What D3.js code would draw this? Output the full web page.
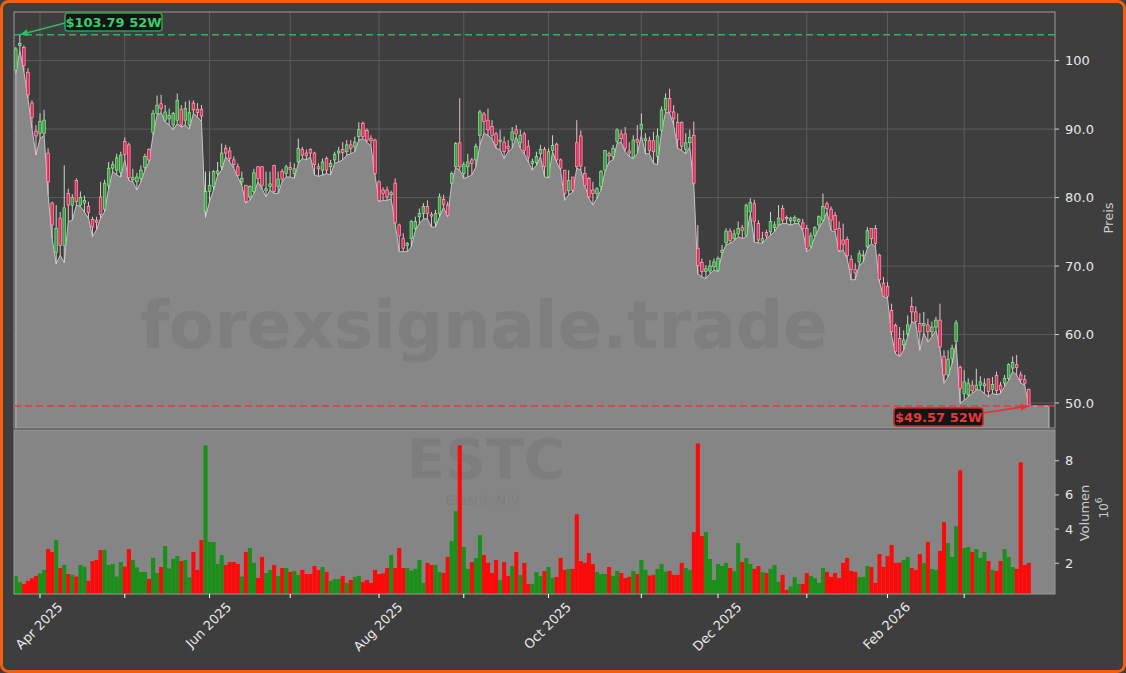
<!DOCTYPE html>
<html><head><meta charset="utf-8">
<script src="https://cdn.jsdelivr.net/npm/d3@7"></script>
<style>html,body{margin:0;padding:0;background:#3e3e3e;overflow:hidden}svg{display:block}</style>
</head><body><svg id="chart" width="1126" height="673"></svg>
<script>
// ---- data (ESTC, daily, index-based x axis) ----
const opens = [
98.6,102.2,101.9,98.3,93.8,89.7,89.4,89.4,86.5,79.2,
72.0,77.0,73.0,80.6,78.9,82.5,78.9,79.2,78.7,76.8,
76.7,80.1,78.3,81.8,84.3,84.0,83.7,88.2,87.7,82.6,
82.3,82.8,84.4,87.0,89.5,92.3,93.7,91.3,91.5,90.6,
91.3,92.9,91.3,90.6,93.8,92.9,92.9,78.0,80.9,81.6,
83.5,84.5,87.2,86.8,85.5,84.5,82.3,81.8,80.1,80.9,
84.5,84.5,81.0,81.6,84.7,81.6,83.8,83.5,84.4,83.5,
85.2,87.0,86.5,87.0,86.5,84.5,84.0,85.7,84.5,85.5,
86.5,87.0,86.7,87.7,87.4,88.9,90.8,89.8,88.6,88.4,
82.3,81.1,81.1,80.4,82.1,76.0,74.0,73.0,74.0,75.5,
77.2,77.7,78.7,77.5,76.3,77.7,79.7,78.9,82.1,84.5,
88.0,83.5,84.5,85.5,85.5,89.1,92.2,91.3,90.4,89.3,
88.2,88.1,87.5,88.4,89.9,88.0,89.3,87.5,85.0,85.1,
86.4,87.0,83.0,86.9,87.8,85.5,84.0,81.0,83.0,88.0,
89.0,83.5,82.8,81.1,80.6,81.6,84.0,86.4,86.0,88.2,
89.3,89.3,86.8,85.9,88.5,90.0,88.3,88.3,88.3,86.0,
89.8,92.8,94.5,92.5,91.0,91.0,87.0,88.0,89.1,72.6,
70.5,69.2,69.3,69.9,69.4,72.0,73.4,75.1,74.0,74.7,
75.6,74.5,77.9,79.1,76.2,73.6,74.9,75.0,75.6,76.0,
78.4,77.1,76.6,76.6,76.5,76.3,75.5,72.9,74.5,76.0,
76.7,79.1,78.3,77.4,75.5,73.8,73.9,71.0,69.5,70.6,
71.5,72.8,75.5,75.5,71.6,67.5,67.0,63.5,61.3,59.4,
58.5,60.1,64.1,63.3,61.6,61.3,61.4,60.4,61.1,62.1,
56.8,54.1,56.5,59.0,55.2,51.4,51.2,52.6,52.0,52.6,
52.5,53.5,52.0,54.0,52.6,52.9,53.6,55.1,55.6,54.1,
53.4,52.0];
const highs = [
102.0,103.79,102.2,98.9,94.2,90.6,92.3,92.8,87.2,79.4,
78.9,77.9,84.7,81.3,80.5,82.8,80.9,80.3,79.4,77.2,
77.2,82.3,82.6,85.2,85.3,86.4,86.7,88.8,88.0,84.2,
83.6,84.7,86.4,87.2,92.8,94.9,95.0,93.5,93.0,92.5,
95.2,93.5,94.0,94.2,94.2,93.8,93.5,83.8,83.8,84.0,
85.2,87.9,87.7,87.4,86.0,85.0,83.8,81.8,81.8,84.2,
84.6,84.6,83.8,83.8,84.8,83.8,84.2,84.8,85.2,85.0,
88.6,87.4,87.0,87.2,86.7,85.0,85.7,86.0,85.5,86.7,
87.4,88.1,88.4,88.4,88.9,91.0,91.1,90.1,89.1,88.6,
82.5,81.5,81.6,81.0,82.8,76.2,74.8,73.5,76.7,77.2,
78.4,79.2,79.6,77.9,78.2,80.6,80.4,79.4,83.8,88.1,
94.5,85.2,86.4,85.8,87.9,92.8,92.5,93.0,91.3,89.6,
89.9,88.9,88.4,90.3,90.6,89.9,89.6,88.4,85.7,86.7,
87.7,87.4,87.2,89.1,88.0,85.7,84.0,84.0,83.0,91.3,
89.8,84.5,83.0,82.3,81.5,84.0,86.9,86.7,87.7,90.1,
89.9,90.3,88.1,89.1,90.6,92.3,89.4,88.9,89.6,90.1,
93.3,95.2,95.9,93.5,92.3,91.1,89.4,89.9,91.1,76.0,
71.1,70.1,70.9,71.1,71.4,73.1,75.5,75.5,75.3,76.5,
76.0,79.1,79.9,79.7,76.7,75.0,75.3,77.9,76.5,78.9,
78.9,77.4,77.2,77.4,77.0,76.9,76.0,74.9,75.8,77.4,
80.6,79.4,78.7,77.9,76.5,76.2,74.3,71.6,70.4,72.3,
72.3,75.7,75.5,76.0,71.8,68.4,67.7,64.5,61.6,61.1,
60.6,62.8,65.5,64.1,63.1,63.3,62.3,61.9,62.6,64.5,
57.7,57.7,58.5,62.1,55.5,54.8,53.6,53.3,55.0,53.9,
53.6,53.6,53.8,54.6,53.1,54.1,55.8,56.8,57.0,54.6,
54.1,52.1];
const lows = [
98.1,101.5,98.4,94.5,90.1,86.2,88.6,89.1,80.4,74.0,
70.3,71.6,70.5,76.5,76.7,78.9,78.7,77.9,77.0,74.3,
75.3,77.0,77.9,81.3,83.8,83.3,83.0,85.5,82.5,82.3,
81.1,82.3,84.0,85.2,89.1,92.0,92.4,91.1,90.6,89.9,
90.8,90.3,90.6,90.0,92.3,91.8,91.1,77.1,79.4,81.1,
83.2,84.0,86.0,85.2,84.3,83.0,81.8,79.2,79.6,80.6,
82.3,81.3,80.1,81.1,80.6,80.6,82.3,83.0,83.0,82.8,
85.0,85.7,85.5,86.0,83.3,83.1,83.3,83.5,83.3,85.0,
85.2,85.5,86.2,86.4,86.7,88.4,88.6,88.1,87.5,83.3,
79.4,79.6,79.6,79.8,76.2,72.1,72.1,72.1,72.8,75.2,
76.2,76.9,76.9,75.7,75.7,77.2,78.6,77.2,82.0,84.4,
84.0,82.8,83.0,83.3,84.5,87.7,89.4,89.1,88.6,87.2,
87.0,85.7,86.7,87.2,88.9,87.2,86.4,85.2,84.0,84.7,
86.0,83.0,82.9,86.7,85.2,84.0,79.6,80.4,80.8,84.3,
84.0,81.8,79.9,78.9,79.9,81.1,83.8,85.2,85.5,87.9,
88.1,86.7,86.0,85.7,86.4,89.1,86.4,86.4,85.0,84.8,
89.6,92.5,92.3,90.6,87.2,86.9,86.4,87.4,81.8,68.9,
68.4,68.2,68.9,69.4,69.2,71.8,73.1,73.3,73.7,74.3,
74.0,74.3,77.7,73.5,73.4,73.3,74.0,74.5,75.0,76.0,
76.2,76.2,76.0,76.2,76.2,75.2,72.1,72.6,74.3,75.5,
76.5,77.9,75.2,75.0,72.1,72.3,71.1,68.0,68.0,70.1,
70.6,72.6,73.3,72.8,67.7,65.5,65.3,59.9,57.2,56.8,
57.7,59.7,61.9,61.6,57.7,60.2,58.9,59.7,60.6,58.0,
52.9,53.8,55.8,58.7,49.95,50.4,50.9,51.4,51.9,51.9,
51.4,50.9,51.4,51.2,51.4,52.4,53.3,54.6,54.1,52.9,
52.6,49.57];
const closes = [
101.7,102.5,99.3,95.0,91.7,89.0,91.1,91.3,82.3,76.0,
75.5,73.0,78.5,78.9,80.0,79.4,80.0,79.6,77.8,75.7,
76.4,77.5,82.1,84.3,84.8,85.8,86.2,86.3,82.9,82.9,
83.0,84.0,86.0,85.5,92.3,93.5,93.0,92.5,92.0,92.3,
94.2,90.6,93.0,92.4,92.8,92.4,91.9,80.9,81.8,83.8,
83.9,86.5,86.5,85.7,84.8,83.2,82.8,79.4,81.6,83.6,
82.8,81.8,81.3,82.0,80.9,82.7,82.7,84.5,84.1,84.2,
87.2,86.2,86.1,86.5,84.8,84.2,85.2,84.0,85.0,86.3,
86.8,86.6,87.7,87.2,88.1,89.9,88.9,88.4,88.3,83.5,
79.6,80.6,80.1,80.7,76.3,74.4,72.6,73.3,76.5,76.5,
77.7,78.7,77.7,77.3,77.7,80.1,79.0,77.4,83.5,87.9,
84.5,84.8,85.2,85.0,87.5,92.5,91.1,89.9,89.1,87.7,
88.4,86.7,87.2,89.6,89.3,89.1,86.9,85.9,85.3,86.0,
87.0,84.5,86.7,87.6,85.5,84.3,80.6,82.5,81.1,84.5,
84.6,81.8,80.1,80.6,81.3,83.8,86.9,86.1,87.2,89.9,
88.6,87.2,86.5,88.4,88.1,90.7,88.6,86.9,86.7,89.0,
92.8,94.5,92.5,91.5,88.5,87.5,88.0,88.8,82.1,70.1,
69.2,69.6,70.0,70.6,71.1,72.3,75.1,73.7,74.7,75.5,
75.2,78.9,79.3,76.5,73.8,74.0,74.4,76.5,76.0,77.0,
76.7,76.9,77.0,77.1,76.8,75.5,72.6,74.4,75.6,77.2,
78.7,78.4,76.7,75.35,72.3,73.2,71.5,69.5,69.0,71.8,
71.6,75.2,74.0,73.3,68.0,65.6,65.6,60.4,57.5,57.0,
59.2,61.4,63.3,61.9,60.4,61.6,60.4,61.1,62.1,58.2,
54.1,56.4,58.0,61.7,52.1,53.1,52.9,51.8,52.6,53.1,
52.8,51.7,52.7,51.8,51.9,53.6,55.6,55.9,55.2,53.4,
52.9,49.7];
// volume in millions
const volumes = [
1.26,0.89,0.79,0.97,1.12,1.26,1.41,1.61,2.83,2.66,
3.36,1.72,1.90,1.37,1.32,1.22,1.90,1.80,0.97,2.13,
2.19,2.77,2.77,1.90,1.96,1.22,2.07,1.80,2.83,2.19,
1.76,1.49,1.49,1.08,2.31,1.43,1.78,3.01,1.69,2.25,
2.42,2.13,2.19,1.18,2.66,1.61,3.36,8.90,3.24,3.24,
1.96,2.48,1.90,2.07,2.07,1.96,1.22,2.66,2.89,2.02,
1.14,2.37,1.43,1.61,1.90,1.26,1.72,1.72,1.49,1.55,
1.32,1.61,1.37,1.37,1.84,1.61,1.78,1.49,0.97,1.08,
1.08,1.26,0.85,1.02,1.20,1.26,0.91,1.02,0.85,1.61,
1.37,1.41,1.72,2.48,1.72,2.89,1.72,1.72,1.57,1.67,
2.19,0.85,2.02,1.90,1.90,1.49,1.43,2.37,3.30,5.05,
8.90,2.95,1.67,2.07,2.31,3.65,2.48,2.02,1.43,2.19,
1.02,2.07,1.26,1.84,2.66,1.32,2.02,0.79,0.79,1.49,
1.26,1.55,1.78,1.14,1.20,2.31,1.61,1.67,1.67,4.87,
2.13,2.02,2.60,1.96,1.49,1.37,1.37,1.78,1.26,1.55,
1.43,1.14,1.20,1.55,1.37,2.19,1.61,1.28,1.32,1.67,
1.96,1.51,1.55,1.32,1.32,2.02,1.72,1.61,3.82,9.01,
3.59,3.82,2.25,1.02,1.96,1.84,2.02,1.72,1.55,3.18,
2.07,2.31,1.96,1.67,1.84,1.49,1.43,1.67,1.90,0.91,
1.32,0.44,0.64,1.18,0.79,0.79,1.43,1.26,1.14,0.85,
1.72,1.49,1.20,1.43,1.14,2.02,2.31,1.55,1.49,1.20,
1.20,1.84,1.78,0.85,2.54,1.78,2.42,3.07,2.02,2.04,
2.19,2.37,1.72,1.61,2.54,2.02,3.24,1.67,1.61,2.72,
4.41,3.18,2.37,4.17,7.44,2.89,2.95,2.66,2.83,2.31,
2.66,2.13,1.61,1.55,2.13,2.83,2.37,1.78,1.67,7.91,
1.90,2.02];
// month ticks: index of first trading day of each month
const monthTickIndex = [6,27,48,68,90,111,132,155,174,196,216,235];
const monthTickLabels = ["Apr 2025","","Jun 2025","","Aug 2025","","Oct 2025","","Dec 2025","","Feb 2026",""];
const priceTicks = [50,60,70,80,90,100];
const priceTickLabels = ["50.0","60.0","70.0","80.0","90.0","100"];
const volumeTicks = [2,4,6,8];
const high52w = 103.79;
const low52w = 49.57;
const ticker = "ESTC";
const companyName = "Elastic N.V.";
const watermark = "forexsignale.trade";

// ---- layout ----
const W = 1126, H = 673;
const L = 14, R = 1055, pTop = 12, pBot = 428, vTop = 430, vBot = 594;
const n = closes.length;
const areaExtend = 5;

const svg = d3.select("#chart");
const FONT = "DejaVu Sans, Verdana, sans-serif";

const x = d3.scaleLinear().domain([-0.45, 257.5]).range([L, R]);
const yP = d3.scaleLinear().domain([46.35, 107.1]).range([pBot, pTop]);
const yV = d3.scaleLinear().domain([0.2, 9.8]).range([vBot, vTop]);
const step = x(1) - x(0);

svg.append("rect").attr("x",0).attr("y",0).attr("width",W).attr("height",H).attr("fill","#3e3e3e");
svg.append("rect").attr("x",1.5).attr("y",1.5).attr("width",W-3).attr("height",H-3)
  .attr("rx",7).attr("fill","none").attr("stroke","#f2600f").attr("stroke-width",3);

const defs = svg.append("defs");
defs.append("clipPath").attr("id","pclip").append("rect").attr("x",L).attr("y",pTop).attr("width",R-L).attr("height",pBot-pTop);
defs.append("clipPath").attr("id","vclip").append("rect").attr("x",L).attr("y",vTop).attr("width",R-L).attr("height",vBot-vTop);

// ---- price panel ----
const gP = svg.append("g").attr("clip-path","url(#pclip)");
gP.append("rect").attr("x",L).attr("y",pTop).attr("width",R-L).attr("height",pBot-pTop).attr("fill","#3e3e3e");
gP.selectAll("line.hg").data(priceTicks).join("line")
  .attr("x1",L).attr("x2",R).attr("y1",d=>yP(d)).attr("y2",d=>yP(d))
  .attr("stroke","#5c5c5c").attr("stroke-width",1);
gP.selectAll("line.vg").data(monthTickIndex).join("line")
  .attr("x1",d=>x(d)).attr("x2",d=>x(d)).attr("y1",pTop).attr("y2",pBot)
  .attr("stroke","#5c5c5c").attr("stroke-width",1);

const areaPts = lows.map((v,i)=>[i,v]);
areaPts.push([n-1+areaExtend, lows[n-1]]);
const area = d3.area().x(d=>x(d[0])).y0(pBot+2).y1(d=>yP(d[1]));
gP.append("path").datum(areaPts).attr("d",area).attr("fill","#878787")
  .attr("stroke","#c4c4c4").attr("stroke-width",1);

svg.append("text").attr("x",484).attr("y",348).attr("text-anchor","middle")
  .attr("font-family",FONT).attr("font-weight","bold").attr("font-size",66)
  .attr("fill","#4a4a4a").attr("fill-opacity",0.14).text(watermark);

const gC = gP.append("g");
const idx = d3.range(n);
const up = i => closes[i] >= opens[i];
gC.selectAll("line.wick").data(idx).join("line")
  .attr("x1",i=>x(i)).attr("x2",i=>x(i))
  .attr("y1",i=>yP(highs[i])).attr("y2",i=>yP(lows[i]))
  .attr("stroke",i=>up(i)?"#c6dcc6":"#efbcc8").attr("stroke-width",1);
const bw = 2.6;
gC.selectAll("rect.body").data(idx).join("rect")
  .attr("x",i=>x(i)-bw/2).attr("width",bw)
  .attr("y",i=>yP(Math.max(opens[i],closes[i])))
  .attr("height",i=>Math.max(0.9, Math.abs(yP(opens[i])-yP(closes[i]))))
  .attr("fill",i=>up(i)?"#3a9e46":"#e3285a")
  .attr("stroke",i=>up(i)?"#9be29b":"#ffa6bc").attr("stroke-width",0.7);

svg.append("line").attr("x1",L).attr("x2",R).attr("y1",yP(high52w)).attr("y2",yP(high52w))
  .attr("stroke","#35b060").attr("stroke-width",1.5).attr("stroke-dasharray","7,4");
svg.append("line").attr("x1",L).attr("x2",R).attr("y1",yP(low52w)).attr("y2",yP(low52w))
  .attr("stroke","#e03c3c").attr("stroke-width",1.5).attr("stroke-dasharray","7,4");

svg.append("rect").attr("x",L).attr("y",pTop).attr("width",R-L).attr("height",pBot-pTop)
  .attr("fill","none").attr("stroke","#9a9a9a").attr("stroke-width",1);

// ---- volume panel ----
svg.append("rect").attr("x",L).attr("y",vTop).attr("width",R-L).attr("height",vBot-vTop).attr("fill","#858585");
svg.append("text").attr("x",486).attr("y",478).attr("text-anchor","middle")
  .attr("font-family",FONT).attr("font-weight","bold").attr("font-size",56)
  .attr("fill","#4a4a4a").attr("fill-opacity",0.13).text(ticker);
svg.append("text").attr("x",484).attr("y",505).attr("text-anchor","middle")
  .attr("font-family",FONT).attr("font-size",14)
  .attr("fill","#4a4a4a").attr("fill-opacity",0.14).text(companyName);
const gV = svg.append("g").attr("clip-path","url(#vclip)");
gV.selectAll("rect.vol").data(idx).join("rect")
  .attr("x",i=>x(i)-step/2).attr("width",step+0.05)
  .attr("y",i=>yV(volumes[i])).attr("height",i=>vBot-yV(volumes[i]))
  .attr("fill",i=>up(i)?"#1c8f1a":"#fc0a0a");
svg.append("rect").attr("x",L).attr("y",vTop).attr("width",R-L).attr("height",vBot-vTop)
  .attr("fill","none").attr("stroke","#9a9a9a").attr("stroke-width",1);

// ---- annotations ----
function label(txt, bx, by, bwid, bh, col, border){
  svg.append("rect").attr("x",bx).attr("y",by).attr("width",bwid).attr("height",bh).attr("rx",3)
    .attr("fill","#141414").attr("stroke",border).attr("stroke-width",1.6);
  svg.append("text").attr("x",bx+bwid/2).attr("y",by+bh/2+0.5).attr("text-anchor","middle")
    .attr("dominant-baseline","central").attr("font-family",FONT).attr("font-weight","bold")
    .attr("font-size",13).attr("fill",col).text(txt);
}
function arrow(x1,y1,x2,y2,col){
  svg.append("line").attr("x1",x1).attr("y1",y1).attr("x2",x2).attr("y2",y2)
    .attr("stroke",col).attr("stroke-width",1.6);
  const a = Math.atan2(y2-y1,x2-x1), len=8, wd=3.5;
  const bxp = x2 - len*Math.cos(a), byp = y2 - len*Math.sin(a);
  const p = [[x2,y2],[bxp - wd*Math.sin(a), byp + wd*Math.cos(a)],[bxp + wd*Math.sin(a), byp - wd*Math.cos(a)]];
  svg.append("path").attr("d","M"+p.map(q=>q.join(",")).join("L")+"Z").attr("fill",col);
}
label("$"+high52w.toFixed(2)+" 52W", 65, 13, 97, 18, "#3ccc6c", "#2e9e52");
arrow(65, 23, x(1), yP(high52w), "#33b864");
label("$"+low52w.toFixed(2)+" 52W", 894, 408, 89, 18, "#e8383a", "#c42a2a");
arrow(983, 413, x(n-1), yP(low52w), "#e83030");

// ---- axes ----
const tickCol = "#e8e8e8";
priceTicks.forEach((t,k)=>{
  svg.append("line").attr("x1",R).attr("x2",R+4).attr("y1",yP(t)).attr("y2",yP(t)).attr("stroke","#d0d0d0");
  svg.append("text").attr("x",R+10).attr("y",yP(t)).attr("dominant-baseline","central")
    .attr("font-family",FONT).attr("font-size",13).attr("fill",tickCol).text(priceTickLabels[k]);
});
svg.append("text").attr("transform","translate(1108,218) rotate(-90)").attr("text-anchor","middle")
  .attr("dominant-baseline","central").attr("font-family",FONT).attr("font-size",13).attr("fill","#cccccc").text("Preis");
volumeTicks.forEach(t=>{
  svg.append("line").attr("x1",R).attr("x2",R+4).attr("y1",yV(t)).attr("y2",yV(t)).attr("stroke","#d0d0d0");
  svg.append("text").attr("x",R+10).attr("y",yV(t)).attr("dominant-baseline","central")
    .attr("font-family",FONT).attr("font-size",13).attr("fill",tickCol).text(t);
});
svg.append("text").attr("transform","translate(1084,513) rotate(-90)").attr("text-anchor","middle")
  .attr("dominant-baseline","central").attr("font-family",FONT).attr("font-size",13).attr("fill","#cccccc").text("Volumen");
const pw = svg.append("text").attr("transform","translate(1104,508) rotate(-90)").attr("text-anchor","middle")
  .attr("dominant-baseline","central").attr("font-family",FONT).attr("font-size",12).attr("fill","#cccccc");
pw.append("tspan").text("10");
pw.append("tspan").attr("dy",-5).attr("font-size",9).text("6");
monthTickIndex.forEach((t,k)=>{
  svg.append("line").attr("x1",x(t)).attr("x2",x(t)).attr("y1",vBot).attr("y2",vBot+4).attr("stroke","#ffffff");
  if(monthTickLabels[k]){
    const tx = svg.append("text").attr("text-anchor","middle").attr("dominant-baseline","central")
      .attr("font-family",FONT).attr("font-size",13).attr("fill",tickCol).text(monthTickLabels[k]);
    const w = tx.node().getComputedTextLength();
    const cy = 600 + (w + 13)/(2*Math.SQRT2);
    tx.attr("transform",`translate(${x(t)-1},${cy}) rotate(-45)`);
  }
});
</script></body></html>
